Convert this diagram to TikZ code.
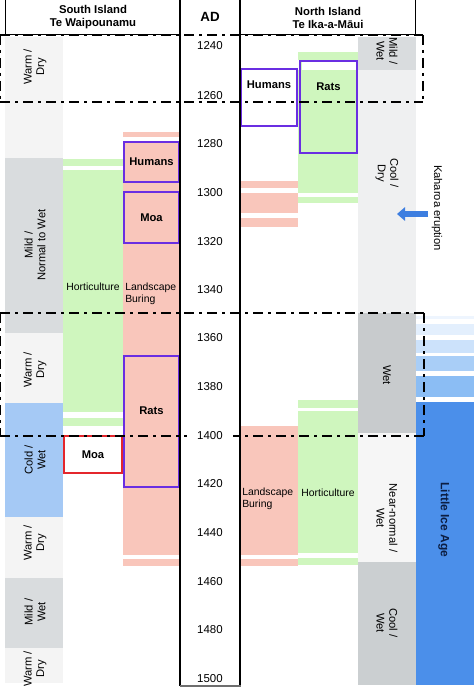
\documentclass[tikz,border=0pt]{standalone}
\usepackage{fontspec}
\setmainfont{Liberation Sans}
\usetikzlibrary{arrows.meta}

\definecolor{warmdry}{RGB}{244,244,244}
\definecolor{mildgray}{RGB}{217,220,222}
\definecolor{coldblue}{RGB}{165,201,245}
\definecolor{burnpink}{RGB}{249,198,187}
\definecolor{hortgreen}{RGB}{207,246,190}
\definecolor{evpurple}{RGB}{106,46,226}
\definecolor{moared}{RGB}{228,38,44}
\definecolor{wetgray}{RGB}{200,203,205}
\definecolor{cooldry}{RGB}{239,240,241}
\definecolor{nearnorm}{RGB}{246,246,246}
\definecolor{coolwet}{RGB}{203,207,209}
\definecolor{liablue}{RGB}{75,143,234}
\definecolor{liaA}{RGB}{238,245,254}
\definecolor{liaB}{RGB}{227,239,253}
\definecolor{liaC}{RGB}{204,226,251}
\definecolor{liaD}{RGB}{169,206,247}
\definecolor{liaE}{RGB}{139,189,244}
\definecolor{arrowblue}{RGB}{61,126,224}
\definecolor{liatext}{RGB}{12,30,66}

\begin{document}
\begin{tikzpicture}[x=0.75pt,y=0.75pt,yscale=-1,xscale=1,
  hdr/.style={font=\bfseries\fontsize{8.5}{9.8}\selectfont, align=center, inner sep=0pt},
  yrlbl/.style={font=\fontsize{8.6}{10}\selectfont, inner sep=0pt},
  lbl/.style={font=\fontsize{7.8}{9}\selectfont, inner sep=0pt},
  vlbl/.style={font=\fontsize{8.4}{9.4}\selectfont, align=center, inner sep=0pt},
  bld/.style={font=\bfseries\fontsize{8.4}{10}\selectfont, inner sep=0pt},
  evbox/.style={draw=evpurple, line width=2.2pt},
  ddline/.style={line width=2.2pt, dash pattern=on 7.5pt off 3.75pt on 2.25pt off 3.75pt},
  kaharrow/.style={draw=arrowblue, line width=5pt, -{Triangle[length=6pt,width=10pt]}}]
%set diagram left start at 0, and has height of 688
\useasboundingbox (0,0) rectangle (474,688);

%Shape: Rectangle (South climate)
\draw [draw opacity=0][fill=warmdry] (5,37) -- (63,37) -- (63,158) -- (5,158) -- cycle ;
\draw [draw opacity=0][fill=mildgray] (5,158) -- (63,158) -- (63,333) -- (5,333) -- cycle ;
\draw [draw opacity=0][fill=warmdry] (5,333) -- (63,333) -- (63,403) -- (5,403) -- cycle ;
\draw [draw opacity=0][fill=coldblue] (5,403) -- (63,403) -- (63,517) -- (5,517) -- cycle ;
\draw [draw opacity=0][fill=warmdry] (5,517) -- (63,517) -- (63,578) -- (5,578) -- cycle ;
\draw [draw opacity=0][fill=mildgray] (5,578) -- (63,578) -- (63,648) -- (5,648) -- cycle ;
\draw [draw opacity=0][fill=warmdry] (5,648) -- (63,648) -- (63,683) -- (5,683) -- cycle ;

%Shape: Rectangle (South horticulture)
\draw [draw opacity=0][fill=hortgreen] (63,159) -- (123,159) -- (123,166) -- (63,166) -- cycle ;
\draw [draw opacity=0][fill=hortgreen] (63,170) -- (123,170) -- (123,412) -- (63,412) -- cycle ;
\draw [draw opacity=0][fill=hortgreen] (63,418) -- (123,418) -- (123,426) -- (63,426) -- cycle ;

%Shape: Rectangle (South landscape burning)
\draw [draw opacity=0][fill=burnpink] (123,132) -- (180,132) -- (180,137) -- (123,137) -- cycle ;
\draw [draw opacity=0][fill=burnpink] (123,141) -- (180,141) -- (180,555) -- (123,555) -- cycle ;
\draw [draw opacity=0][fill=burnpink] (123,559) -- (180,559) -- (180,566) -- (123,566) -- cycle ;

%Shape: Rectangle (North landscape burning)
\draw [draw opacity=0][fill=burnpink] (240,181) -- (298,181) -- (298,188) -- (240,188) -- cycle ;
\draw [draw opacity=0][fill=burnpink] (240,193) -- (298,193) -- (298,213) -- (240,213) -- cycle ;
\draw [draw opacity=0][fill=burnpink] (240,218) -- (298,218) -- (298,227) -- (240,227) -- cycle ;
\draw [draw opacity=0][fill=burnpink] (240,426) -- (298,426) -- (298,555) -- (240,555) -- cycle ;
\draw [draw opacity=0][fill=burnpink] (240,559) -- (298,559) -- (298,566) -- (240,566) -- cycle ;

%Shape: Rectangle (North horticulture)
\draw [draw opacity=0][fill=hortgreen] (298,52) -- (358,52) -- (358,60) -- (298,60) -- cycle ;
\draw [draw opacity=0][fill=hortgreen] (298,70) -- (358,70) -- (358,193) -- (298,193) -- cycle ;
\draw [draw opacity=0][fill=hortgreen] (298,197) -- (358,197) -- (358,203) -- (298,203) -- cycle ;
\draw [draw opacity=0][fill=hortgreen] (298,400) -- (358,400) -- (358,408) -- (298,408) -- cycle ;
\draw [draw opacity=0][fill=hortgreen] (298,411) -- (358,411) -- (358,553) -- (298,553) -- cycle ;
\draw [draw opacity=0][fill=hortgreen] (298,558) -- (358,558) -- (358,565) -- (298,565) -- cycle ;

%Shape: Rectangle (North climate)
\draw [draw opacity=0][fill=mildgray] (358,37) -- (416,37) -- (416,70) -- (358,70) -- cycle ;
\draw [draw opacity=0][fill=cooldry] (358,70) -- (416,70) -- (416,313) -- (358,313) -- cycle ;
\draw [draw opacity=0][fill=wetgray] (358,313) -- (416,313) -- (416,433) -- (358,433) -- cycle ;
\draw [draw opacity=0][fill=nearnorm] (358,433) -- (416,433) -- (416,562) -- (358,562) -- cycle ;
\draw [draw opacity=0][fill=coolwet] (358,562) -- (416,562) -- (416,685) -- (358,685) -- cycle ;

%Shape: Rectangle (Little Ice Age)
\draw [draw opacity=0][fill=liaA] (416,316) -- (474,316) -- (474,319) -- (416,319) -- cycle ;
\draw [draw opacity=0][fill=liaB] (416,324) -- (474,324) -- (474,335) -- (416,335) -- cycle ;
\draw [draw opacity=0][fill=liaC] (416,340) -- (474,340) -- (474,353) -- (416,353) -- cycle ;
\draw [draw opacity=0][fill=liaD] (416,356) -- (474,356) -- (474,371) -- (416,371) -- cycle ;
\draw [draw opacity=0][fill=liaE] (416,376) -- (474,376) -- (474,397) -- (416,397) -- cycle ;
\draw [draw opacity=0][fill=liablue] (416,402) -- (474,402) -- (474,685) -- (416,685) -- cycle ;

%Shape: Rectangle (event boxes)
\draw [evbox][fill=burnpink] (124,142) -- (179,142) -- (179,182) -- (124,182) -- cycle ;
\draw [evbox][fill=burnpink] (124,192) -- (179,192) -- (179,243) -- (124,243) -- cycle ;
\draw [evbox][fill=burnpink] (124,356) -- (179,356) -- (179,487) -- (124,487) -- cycle ;
\draw [draw=moared, line width=2.2pt][fill=white] (64,436) -- (122,436) -- (122,473) -- (64,473) -- cycle ;
\draw [evbox][fill=white] (241,69) -- (297,69) -- (297,126) -- (241,126) -- cycle ;
\draw [evbox][fill=hortgreen] (300,61) -- (357,61) -- (357,153) -- (300,153) -- cycle ;
\draw [draw opacity=0][fill=white] (301.5,62.5) -- (355.5,62.5) -- (355.5,70) -- (301.5,70) -- cycle ;

%Straight Lines (headers and AD column)
\draw [line width=0.6]  (5,0) -- (5,34) -- (180,34) ;
\draw [line width=0.6]  (240,34) -- (415,34) -- (415,0) ;
\draw [line width=0.8]  (180,0) -- (180,686) ;
\draw [line width=0.8]  (240,0) -- (240,686) ;
\draw [color={rgb, 255:red, 110; green, 110; blue, 110 }, line width=1.5]  (179.5,686) -- (240.5,686) ;

%Straight Lines (dash dot frames)
\draw [ddline]  (0,35) -- (423,35) ;
\draw [ddline]  (0,102) -- (423,102) ;
\draw [ddline]  (0,35) -- (0,102) ;
\draw [ddline]  (423,35) -- (423,102) ;
\draw [ddline]  (0,313) -- (424,313) ;
\draw [ddline]  (0,436) -- (424,436) ;
\draw [ddline]  (0,313) -- (0,436) ;
\draw [ddline]  (424,313) -- (424,436) ;

% Text Node
\draw (93,17.5) node (southhdr) [hdr] {South Island\\Te Waipounamu};
% Text Node
\draw (210,17) node (adhdr) [hdr, font=\bfseries\fontsize{10}{12}\selectfont] {AD};
% Text Node
\draw (328,17.5) node (northhdr) [hdr] {North Island\\Te Ika-a-Māui};

% Text Node
\draw (210,46) node (yrA) [yrlbl] {1240};
% Text Node
\draw (210,96) node (yrB) [yrlbl] {1260};
% Text Node
\draw (210,144) node (yrC) [yrlbl] {1280};
% Text Node
\draw (210,193) node (yrD) [yrlbl] {1300};
% Text Node
\draw (210,242) node (yrE) [yrlbl] {1320};
% Text Node
\draw (210,290) node (yrF) [yrlbl] {1340};
% Text Node
\draw (210,338) node (yrG) [yrlbl] {1360};
% Text Node
\draw (210,387) node (yrH) [yrlbl] {1380};
% Text Node
\draw (210,436) node (yrI) [yrlbl, fill=white, inner xsep=8pt, inner ysep=1pt] {1400};
% Text Node
\draw (210,484) node (yrJ) [yrlbl] {1420};
% Text Node
\draw (210,533) node (yrK) [yrlbl] {1440};
% Text Node
\draw (210,582) node (yrL) [yrlbl] {1460};
% Text Node
\draw (210,630) node (yrM) [yrlbl] {1480};
% Text Node
\draw (210,679) node (yrN) [yrlbl] {1500};

% Text Node
\draw (35,67) node (swarmA) [vlbl, rotate=90] {Warm /\\Dry};
% Text Node
\draw (35,245) node (smildA) [vlbl, rotate=90] {Mild /\\Normal to Wet};
% Text Node
\draw (35,370) node (swarmB) [vlbl, rotate=90] {Warm /\\Dry};
% Text Node
\draw (35,460) node (scold) [vlbl, rotate=90] {Cold /\\Wet};
% Text Node
\draw (35,543) node (swarmC) [vlbl, rotate=90] {Warm /\\Dry};
% Text Node
\draw (35,612) node (smildB) [vlbl, rotate=90] {Mild /\\Wet};
% Text Node
\draw (35,669) node (swarmD) [vlbl, rotate=90] {Warm /\\Dry};

% Text Node
\draw (93,287) node (short) [lbl] {Horticulture};
% Text Node
\draw (125,294) node (sburn) [lbl, anchor=west, align=left] {Landscape\\Buring};
% Text Node
\draw (151.5,162) node (shumans) [bld] {Humans};
% Text Node
\draw (151.5,218) node (smoaA) [bld] {Moa};
% Text Node
\draw (151.5,411) node (srats) [bld] {Rats};
% Text Node
\draw (93,455) node (smoaB) [bld] {Moa};

% Text Node
\draw (269,85) node (nhumans) [bld] {Humans};
% Text Node
\draw (328.5,87) node (nrats) [bld] {Rats};
% Text Node
\draw (242,499) node (nburn) [lbl, anchor=west, align=left] {Landscape\\Buring};
% Text Node
\draw (328,493) node (nhort) [lbl] {Horticulture};

% Text Node
\draw (387,51) node (nmild) [vlbl, rotate=-90] {Mild /\\Wet};
% Text Node
\draw (387,173) node (ncooldry) [vlbl, rotate=-90] {Cool /\\Dry};
% Text Node
\draw (387,375) node (nwet) [vlbl, rotate=-90] {Wet};
% Text Node
\draw (387,518) node (nnear) [vlbl, rotate=-90] {Near-normal /\\Wet};
% Text Node
\draw (387,623) node (ncoolwet) [vlbl, rotate=-90] {Cool /\\Wet};
% Text Node
\draw (437,208) node (kaharoa) [vlbl, rotate=-90] {Kaharoa eruption};
% Text Node
\draw (444,520) node (lia) [bld, rotate=-90, text=liatext, font=\bfseries\fontsize{9}{10}\selectfont] {Little Ice Age};

%Straight Lines (arrow to the climate column)
\coordinate (kahTail) at (428,214);
\coordinate (kahHead) at (397,214);
\draw [kaharrow]  (kahTail) -- (kahHead) ;

\end{tikzpicture}
\end{document}
